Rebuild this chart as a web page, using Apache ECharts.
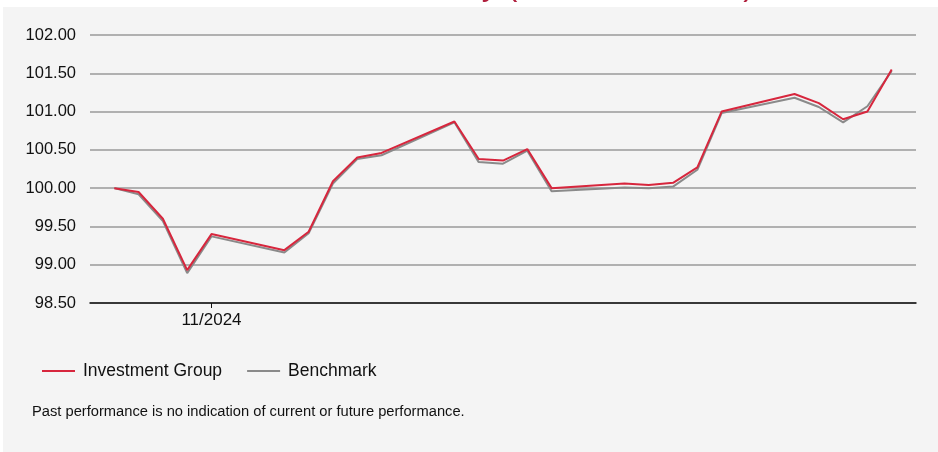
<!DOCTYPE html>
<html><head><meta charset="utf-8">
<script src="https://cdn.jsdelivr.net/npm/echarts@6/dist/echarts.min.js"></script>
<style>html,body{margin:0;padding:0;background:#fff;}#c{width:938px;height:452px;}</style>
</head><body><div id="c"></div>
<script>
const dates = ['2024-10-28','2024-10-29','2024-10-30','2024-10-31','2024-11-01',
  '2024-11-04','2024-11-05','2024-11-06','2024-11-07','2024-11-08',
  '2024-11-11','2024-11-12','2024-11-13','2024-11-14','2024-11-15',
  '2024-11-18','2024-11-19','2024-11-20','2024-11-21','2024-11-22',
  '2024-11-25','2024-11-26','2024-11-27','2024-11-28','2024-11-29'];
const investmentGroup = [100.00, 99.95, 99.60, 98.93, 99.40,
  99.19, 99.43, 100.09, 100.40, 100.46,
  100.87, 100.38, 100.36, 100.51, 100.00,
  100.06, 100.04, 100.07, 100.27, 101.00,
  101.23, 101.11, 100.90, 101.00, 101.55];
const benchmark = [100.00, 99.92, 99.57, 98.89, 99.37,
  99.16, 99.41, 100.06, 100.38, 100.43,
  100.86, 100.34, 100.32, 100.49, 99.96,
  100.01, 100.00, 100.02, 100.24, 100.98,
  101.18, 101.06, 100.86, 101.07, 101.53];
const yTicks = {min: 98.5, max: 102, step: 0.5};
const xLabelDates = ['2024-11-01'];
const titleText = 'Performance History (Rebased to 100)';
const footnote = 'Past performance is no indication of current or future performance.';

const ts = d => { const p = d.split('-').map(Number); return Date.UTC(p[0], p[1]-1, p[2]); };
const chart = echarts.init(document.getElementById('c'), null, {renderer:'canvas'});
const font = 'Liberation Sans, Arial, sans-serif';
chart.setOption({
  backgroundColor: '#ffffff',
  animation: false,
  textStyle: {fontFamily: font},
  graphic: [
    {type:'rect', z:-100, silent:true, shape:{x:3, y:7, width:935, height:445}, style:{fill:'#f4f4f4'}},
    {type:'text', z:10, x:754, y:2, style:{text:titleText, fill:'#b01e3c', font:'32px ' + font, textAlign:'right', textVerticalAlign:'bottom'}},
    {type:'text', z:10, x:32, y:412, style:{text:footnote, fill:'#111', font:'14.7px ' + font, textAlign:'left', textVerticalAlign:'middle'}}
  ],
  grid: {left: 90, right: 22, top: 35, bottom: 149, containLabel: false},
  legend: {
    left: 37, top: 357, itemWidth: 33, itemHeight: 2, itemGap: 25, icon: 'rect',
    textStyle: {fontSize: 17.5, color: '#111', fontFamily: font, padding: [0, 0, 0, 3]},
    data: ['Investment Group', 'Benchmark']
  },
  xAxis: {
    type: 'value', min: ts('2024-10-27'), max: ts('2024-11-30'),
    axisLine: {show: true, lineStyle: {color: '#111', width: 1.5}},
    axisTick: {show: true, length: 5, lineStyle: {color: '#111'}, customValues: xLabelDates.map(ts)},
    axisLabel: {show: true, color: '#111', fontSize: 17, margin: 9, fontFamily: font,
      customValues: xLabelDates.map(ts),
      formatter: v => { const d = new Date(v); return String(d.getUTCMonth()+1).padStart(2,'0') + '/' + d.getUTCFullYear(); }},
    splitLine: {show: false}
  },
  yAxis: {
    type: 'value', min: yTicks.min, max: yTicks.max, interval: yTicks.step,
    axisLine: {show: false}, axisTick: {show: false},
    axisLabel: {color: '#111', fontSize: 16.5, margin: 14, fontFamily: font, formatter: v => v.toFixed(2)},
    splitLine: {show: true, lineStyle: {color: '#9a9a9a', width: 1.5}}
  },
  series: [
    {name: 'Benchmark', type: 'line', symbol: 'none', z: 2,
     lineStyle: {color: '#8a8a8a', width: 2}, itemStyle: {color: '#8a8a8a'},
     data: dates.map((d, i) => [ts(d), benchmark[i]])},
    {name: 'Investment Group', type: 'line', symbol: 'none', z: 3,
     lineStyle: {color: '#d7263d', width: 2}, itemStyle: {color: '#d7263d'},
     data: dates.map((d, i) => [ts(d), investmentGroup[i]])}
  ]
});
</script></body></html>
